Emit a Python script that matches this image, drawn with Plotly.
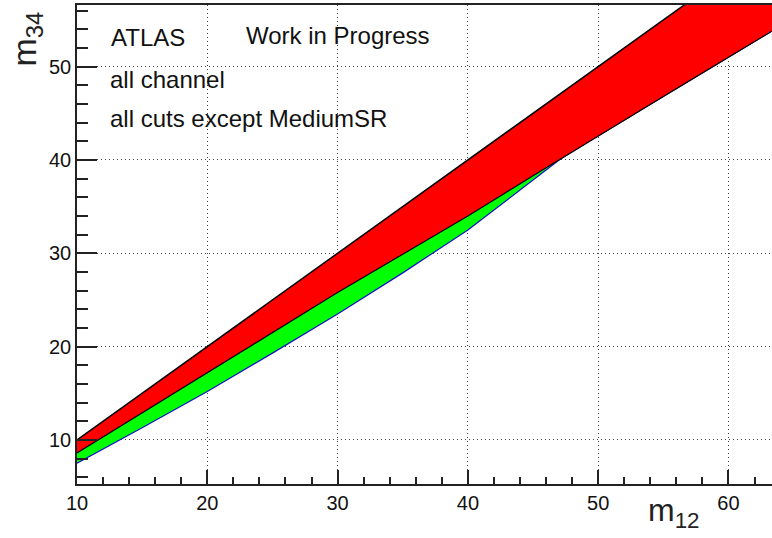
import plotly.graph_objects as go

# m12 sample points and the three band boundaries (GeV)
m12 = [10, 15, 20, 25, 30, 35, 40, 45, 47.1, 50, 55, 60, 65]
m34_upper = [10, 15, 20, 25, 30, 35, 40, 45, 47.1, 50, 55, 60, 65]
m34_red_lower = [8.6, 12.9, 17.2, 21.5, 25.8, 29.9, 34.0, 38.3, 40.1, 42.6, 46.8, 51.0, 55.2]
m34_green_lower = [7.5, 11.3, 15.2, 19.3, 23.5, 27.9, 32.5, 37.9, 40.1, 42.6, 46.8, 51.0, 55.2]

x_ticks = [10, 20, 30, 40, 50, 60]
y_ticks = [10, 20, 30, 40, 50]

fig = go.Figure()

# lower edge of the green band (blue outline)
fig.add_trace(go.Scatter(
    x=m12, y=m34_green_lower, mode="lines",
    line=dict(color="#1010c8", width=1.2), showlegend=False, hoverinfo="skip"))
# green band up to the lower red edge
fig.add_trace(go.Scatter(
    x=m12, y=m34_red_lower, mode="lines", fill="tonexty", fillcolor="#00ff00",
    line=dict(color="black", width=1.2), showlegend=False, hoverinfo="skip"))
# red band up to m34 = m12
fig.add_trace(go.Scatter(
    x=m12, y=m34_upper, mode="lines", fill="tonexty", fillcolor="#ff0000",
    line=dict(color="black", width=1.5), showlegend=False, hoverinfo="skip"))

font_main = "Liberation Sans, Arial, Helvetica, sans-serif"
grid_dash = "1px,3px"

fig.update_layout(
    width=772, height=538,
    margin=dict(l=77, r=0, t=5, b=54),
    paper_bgcolor="white", plot_bgcolor="white",
    font=dict(family=font_main, color="black"),
    xaxis=dict(
        range=[10, 63.34], tickvals=x_ticks, ticks="inside", ticklen=14,
        tickwidth=1.5, tickcolor="#222", showline=True, linecolor="#222",
        linewidth=1.5, mirror=True, showgrid=True, gridcolor="#444",
        griddash=grid_dash, gridwidth=1.2, zeroline=False,
        tickfont=dict(size=20, color="#111"),
        minor=dict(dtick=2, tick0=10, ticks="inside", ticklen=7,
                   tickwidth=1.5, tickcolor="#222", showgrid=False),
    ),
    yaxis=dict(
        range=[5.28, 56.6], tickvals=y_ticks, ticks="inside", ticklen=20,
        tickwidth=1.5, tickcolor="#222", showline=True, linecolor="#222",
        linewidth=1.5, mirror=False, showgrid=True, gridcolor="#444",
        griddash=grid_dash, gridwidth=1.2, zeroline=False,
        tickfont=dict(size=20, color="#111"),
        minor=dict(dtick=2, tick0=10, ticks="inside", ticklen=11,
                   tickwidth=1.5, tickcolor="#222", showgrid=False),
    ),
)

# axis titles
fig.add_annotation(text="m<sub>12</sub>", xref="paper", yref="paper",
                   x=(702 - 77) / 695, y=-(512 - 484) / 479,
                   xanchor="right", yanchor="middle", showarrow=False,
                   font=dict(size=32, color="#222", family=font_main))
fig.add_annotation(text="m<sub>34</sub>", xref="paper", yref="paper",
                   x=-(77 - 26) / 695, y=(484 - 10) / 479,
                   xanchor="center", yanchor="top", textangle=-90,
                   showarrow=False,
                   font=dict(size=34, color="#222", family=font_main))

# labels inside the frame
labels = [
    ("ATLAS", 109, 37),
    ("Work in Progress", 244, 35),
    ("all channel", 108, 80),
    ("all cuts except MediumSR", 108, 118),
]
for text, px, py in labels:
    fig.add_annotation(text=text, xref="paper", yref="paper",
                       x=(px - 77) / 695, y=(484 - py) / 479,
                       xanchor="left", yanchor="middle", showarrow=False,
                       font=dict(size=24, color="#111", family=font_main))

fig.write_html("out.html")
